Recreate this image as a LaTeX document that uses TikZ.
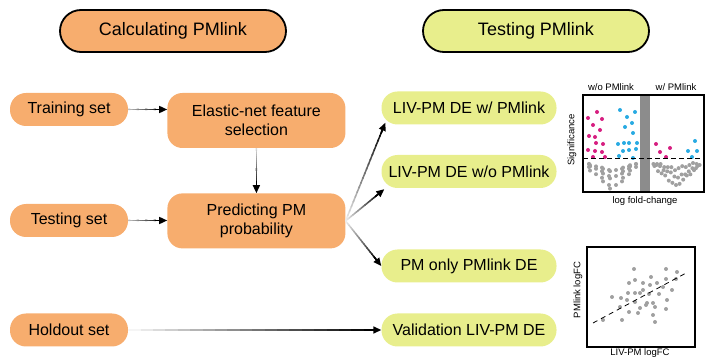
\documentclass[tikz,border=0pt]{standalone}
\usepackage{xcolor}
\usepackage{fontspec}
\setmainfont{Liberation Sans}
\usepackage{tikz}
\usetikzlibrary{arrows.meta,shapes,positioning,calc}

\definecolor{calcorange}{RGB}{247,173,110}
\definecolor{testgreen}{RGB}{232,238,140}
\definecolor{upmagenta}{RGB}{214,30,128}
\definecolor{upcyan}{RGB}{40,170,226}
\definecolor{dotgray}{RGB}{160,160,160}

\newcommand{\boxfont}{\fontsize{16}{19}\selectfont}
\newcommand{\labfont}{\fontsize{9.5}{11}\selectfont}

% arrow whose shaft fades from light gray to black
\newcommand{\fadearrow}[3]{%
  \coordinate (fastart) at (#1);
  \coordinate (faend) at ($(#2)!5pt!(#1)$);
  \coordinate (fatip) at ($(#2)!12pt!(#1)$);
  \foreach \k in {0,...,19}{%
    \pgfmathsetmacro{\ta}{\k/20}%
    \pgfmathsetmacro{\tb}{min((\k+1.3)/20,1)}%
    \pgfmathsetmacro{\tone}{#3+(100-#3)*\k/19}%
    \draw[fadeline, black!\tone] ($(fastart)!\ta!(faend)$) -- ($(fastart)!\tb!(faend)$);
  }%
  \draw[fadeline, -{Triangle[length=8pt,width=7pt]}] (fatip) -- (#2);
}

\begin{document}
\begin{tikzpicture}[
    x=1pt, y=-1pt,
    title/.style={rectangle, rounded corners=21pt, draw, line width=1.8pt, minimum width=226pt, minimum height=42pt, font=\fontsize{18}{22}\selectfont},
    setbox/.style={rectangle, rounded corners=16pt, fill=calcorange, minimum width=118pt, minimum height=33pt, font=\boxfont},
    procbox/.style={rectangle, rounded corners=15pt, fill=calcorange, minimum width=178pt, minimum height=55pt, align=center, font=\boxfont},
    resbox/.style={rectangle, rounded corners=16pt, fill=testgreen, minimum width=175pt, minimum height=33pt, font=\boxfont},
    fadeline/.style={line width=1.5pt, line cap=butt},
    small/.style={font=\labfont, inner sep=0pt},
    gdot/.style={fill=dotgray}
]
    \useasboundingbox (0,0) rectangle (705,358);

    \node[title, fill=calcorange] (calc) at (173,31) {Calculating PMlink};
    \node[title, fill=testgreen] (test) at (536,31) {Testing PMlink};

    \node[setbox] (train) at (69,109.5) {Training set};
    \node[setbox] (testset) at (69,220.5) {Testing set};
    \node[setbox] (holdout) at (69,330) {Holdout set};

    \node[procbox, right=39pt of train, yshift=-11pt] (elastic) {Elastic-net feature\\selection};
    \node[procbox, below=45pt of elastic] (predict) {Predicting PM\\probability};

    \node[resbox] (withpm) at (469,108) {LIV-PM DE w/ PMlink};
    \node[resbox] (withoutpm) at (469,171.5) {LIV-PM DE w/o PMlink};
    \node[resbox] (pmonly) at (469,266) {PM only PMlink DE};
    \node[resbox] (valid) at (469,330) {Validation LIV-PM DE};

    \coordinate (e_in) at (train.east -| elastic.west);
    \coordinate (p_in) at (testset.east -| predict.west);
    \coordinate (w1_in) at ($(withpm.south west)+(4,-2)$);
    \coordinate (w2_in) at ($(withoutpm.south west)+(3,1)$);

    \fadearrow{train.east}{e_in}{25}
    \fadearrow{testset.east}{p_in}{25}
    \fadearrow{elastic.south}{predict.north}{15}
    \fadearrow{predict.east}{w1_in}{8}
    \fadearrow{predict.east}{w2_in}{8}
    \fadearrow{predict.east}{pmonly.west}{8}
    \fadearrow{holdout.east}{valid.west}{4}

    % volcano plot
    \node[small] (wo) at (611,87) {w/o PMlink};
    \node[small] (wi) at (676,87) {w/ PMlink};
    \node[small, rotate=90] (sig) at (572,140) {Significance};
    \node[small] (lfc) at (645,201) {log fold-change};
    \fill[black!45] (640,95) rectangle (650,192);
    \foreach \i in {-6,...,6}{
      \foreach \j in {0,1,2}{
        \pgfmathsetmacro{\dx}{612+4*\i+mod(7*\i+5*\j+50,5)-2}
        \pgfmathsetmacro{\dy}{162+(6-abs(\i))*0.6+(6+(6-abs(\i))*3.6)*(\j+0.5)/3+mod(3*\i+7*\j+50,3)-1}
        \fill[gdot] (\dx,\dy) circle (2pt);
        \pgfmathsetmacro{\rx}{677+3.6*\i+mod(5*\i+3*\j+50,5)-2}
        \pgfmathsetmacro{\ry}{162+(6-abs(\i))*0.5+(6+(6-abs(\i))*3.2)*(\j+0.5)/3+mod(5*\i+2*\j+50,3)-1}
        \fill[gdot] (\rx,\ry) circle (2pt);
      }
    }
    \foreach \x/\y in {588/118,597/112,602/119,593/125,600/130,589/136,595/137,596/143,603/144,588/150,595/151,602/152,593/157,605/157,656/144,660/152,670/148,666/157}
      \fill[upmagenta] (\x,\y) circle (2pt);
    \foreach \x/\y in {620/110,627/117,635/112,632/123,625/127,633/133,618/144,624/143,629/143,637/143,623/151,629/150,636/149,619/156,633/158,695/141,688/151,697/151,692/157}
      \fill[upcyan] (\x,\y) circle (2pt);
    \draw[dash pattern=on 5pt off 3pt, line width=0.8pt] (583,158) -- (704,158);
    \draw[line width=1.4pt] (583,95) rectangle (704,192);

    % scatter plot
    \node[small, rotate=90] (pmfc) at (578,290) {PMlink logFC};
    \node[small] (livfc) at (640,353) {LIV-PM logFC};
    \foreach \x/\y in {634/269,666/269,677/272,629/283,635/280,643/283,651/277,657/283,666/279,676/279,650/285,628/293,635/293,640/293,643/290,649/294,659/294,663/287,672/290,612/297,621/298,627/300,635/302,647/303,653/303,655/307,667/300,620/307,640/308,629/312,638/313,646/305,653/315,666/309,603/320,622/320,655/322}
      \fill[gdot] (\x,\y) circle (2pt);
    \draw[dash pattern=on 5pt off 4pt, line width=0.8pt] (593,323) -- (688,272);
    \draw[line width=1.4pt] (587,247) rectangle (695,347);
\end{tikzpicture}
\end{document}
